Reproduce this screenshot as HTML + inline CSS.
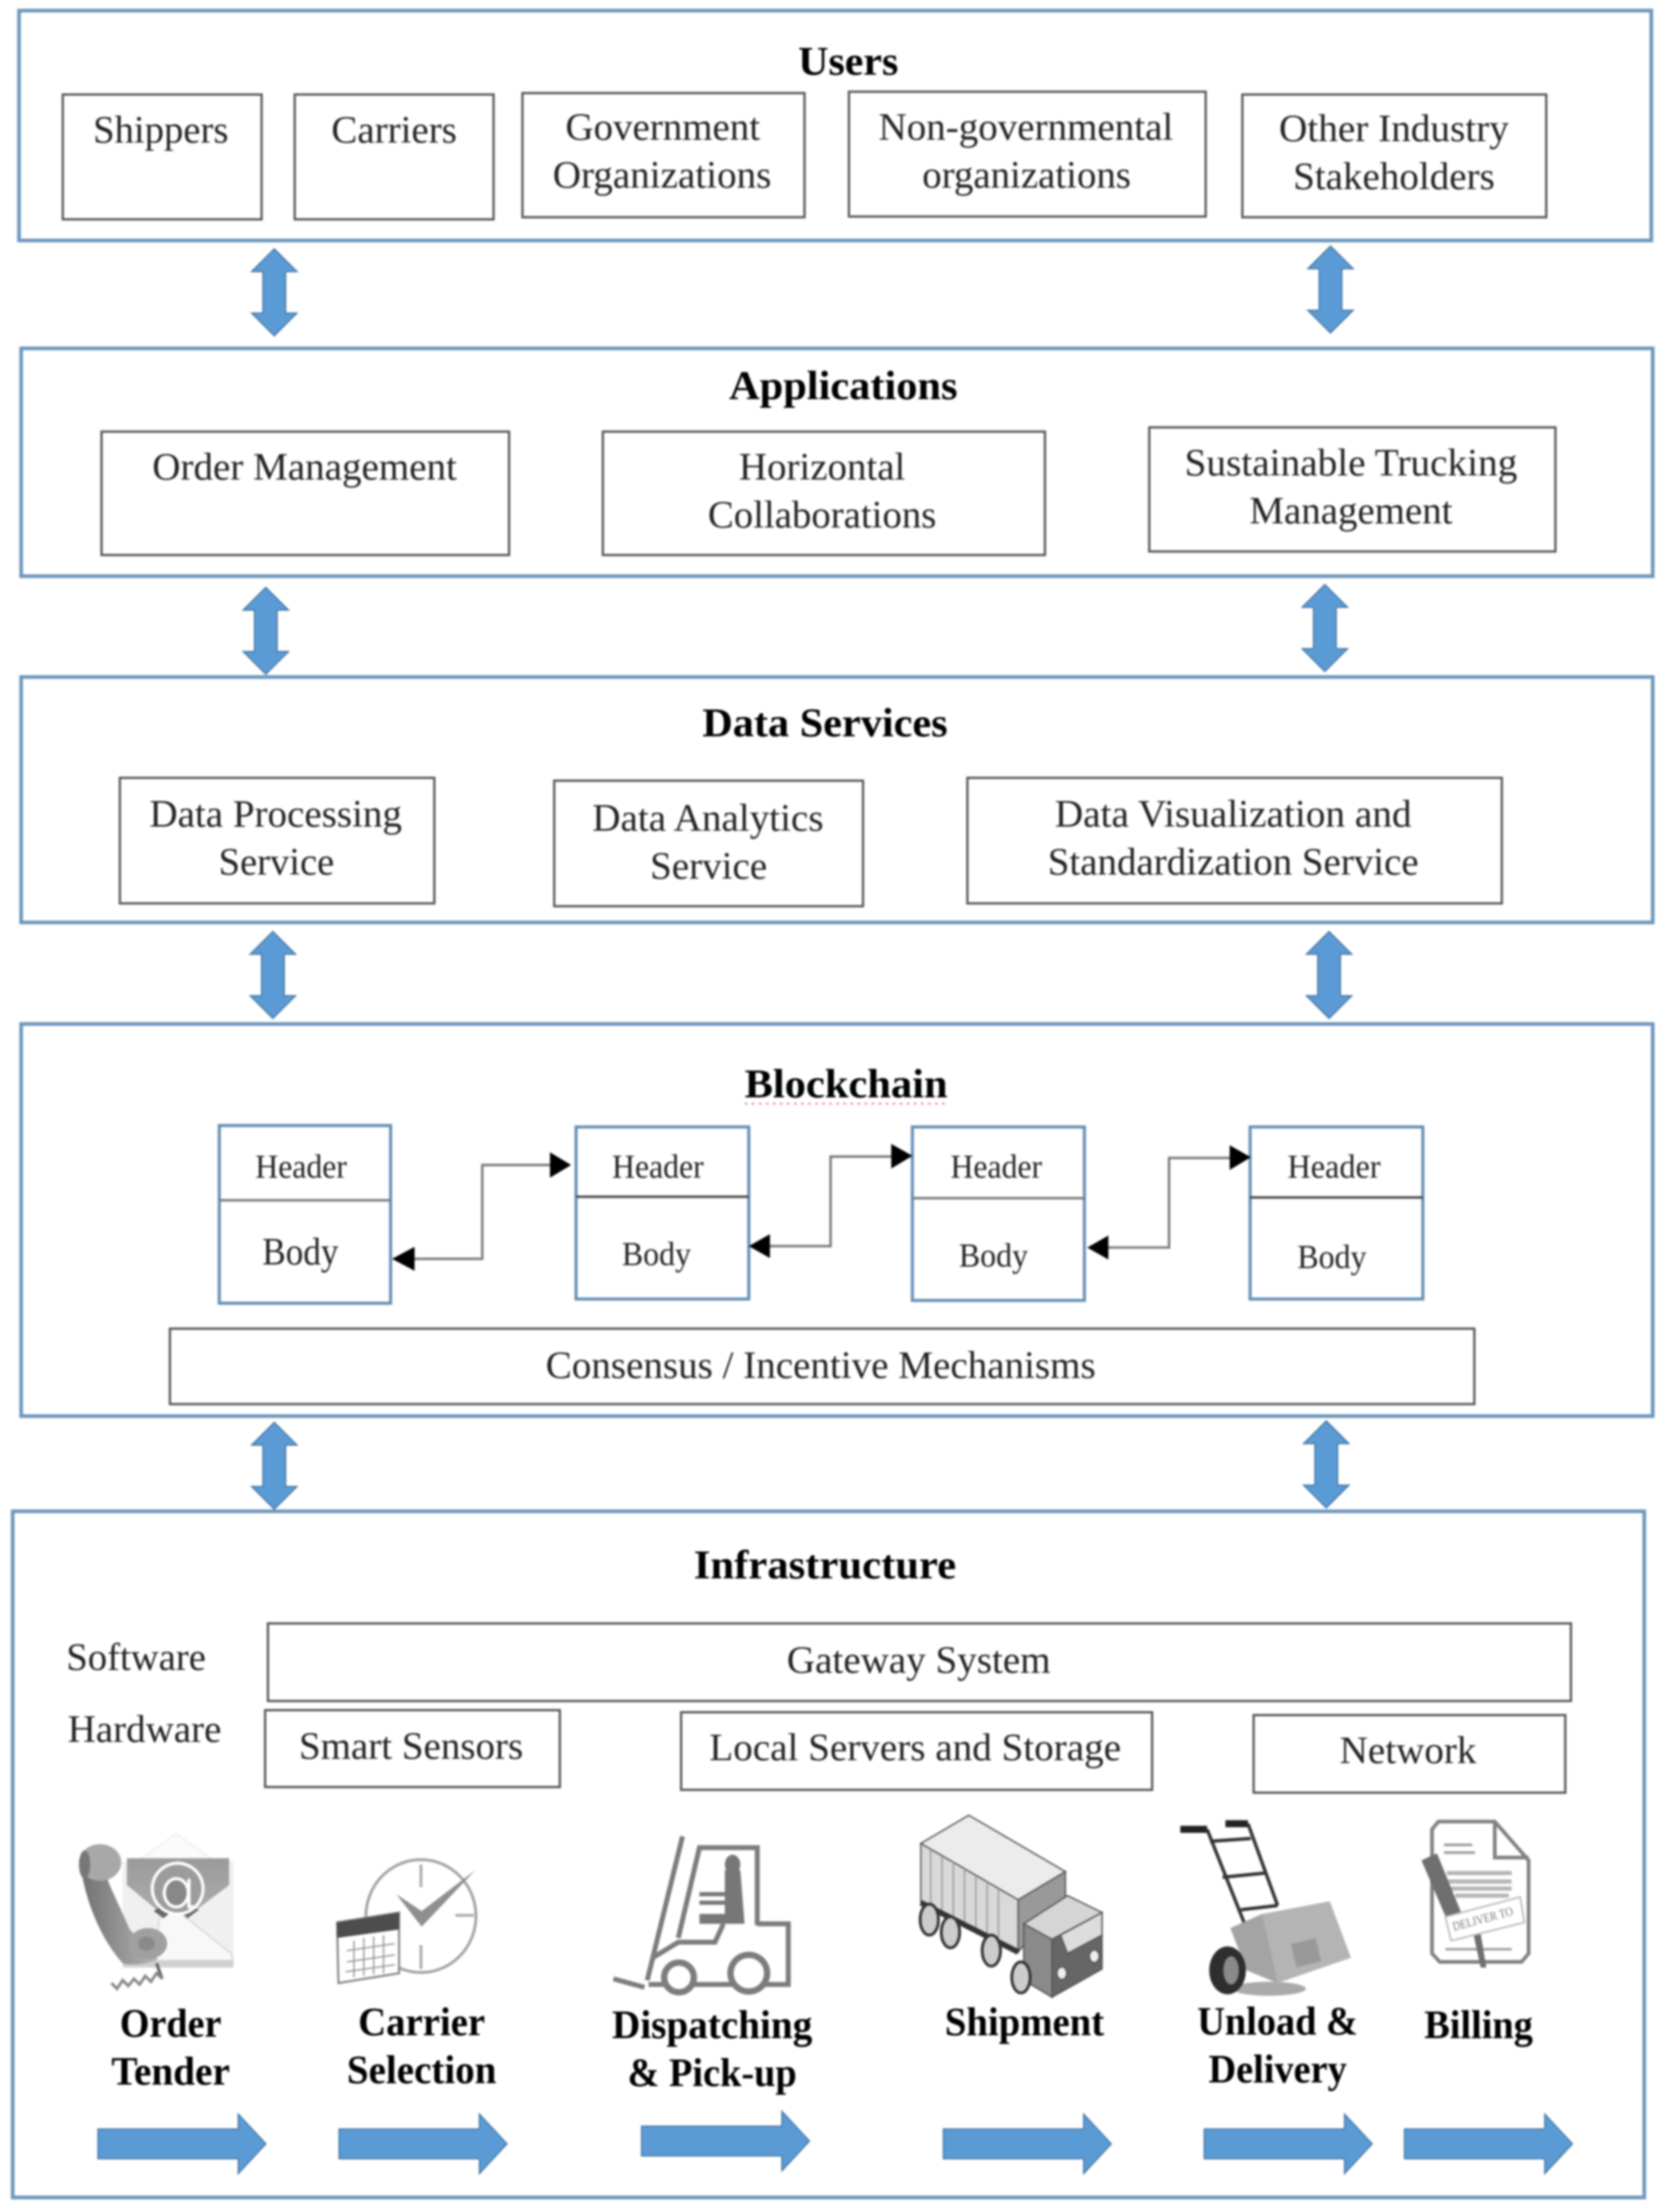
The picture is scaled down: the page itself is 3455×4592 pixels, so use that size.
<!DOCTYPE html>
<html><head><meta charset="utf-8">
<style>
html,body{margin:0;padding:0;background:#fff}
svg{display:block;width:3455px;height:4592px;filter:blur(2.2px)}
text{font-family:"Liberation Serif",serif;font-size:27.5px;fill:#222}
.t{font-weight:bold;font-size:29px;fill:#000}
.l{font-weight:bold;font-size:28.5px;fill:#000}
.s{font-size:24px}
.o{fill:#fff;stroke:#6d97bc;stroke-width:2.6}
.b{fill:#fff;stroke:#555;stroke-width:1.6}
.k{fill:#fff;stroke:#6890b5;stroke-width:2.2}
.a{fill:#5b9bd5;stroke:#4a7ba8;stroke-width:1}
.c{fill:none;stroke:#777;stroke-width:1.7}
</style></head><body>
<svg xmlns="http://www.w3.org/2000/svg" viewBox="0 0 1180 1568.3">
<rect width="1180" height="1569" fill="#fff"/>
<defs>
<path id="da" class="a" d="M0 0L16 16H8V45.500H16L0 61.500L-16 45.500H-8V16H-16Z"/>
<path id="ra" class="a" d="M0 10.500H99.500V0L119 21L99.500 42V31.500H0Z"/>
<linearGradient id="env" x1="0" y1="0" x2="0" y2="1"><stop offset="0" stop-color="#9a9a9a"/><stop offset="1" stop-color="#adadad"/></linearGradient>
<linearGradient id="hs" x1="0" y1="0" x2="1" y2="0"><stop offset="0" stop-color="#707070"/><stop offset="1" stop-color="#b5b5b5"/></linearGradient>
</defs>

<!-- outer panels -->
<rect class="o" x="13.500" y="7.500" width="1157.500" height="163"/>
<rect class="o" x="15" y="247" width="1157" height="161.500"/>
<rect class="o" x="15" y="480" width="1157" height="174"/>
<rect class="o" x="15" y="726" width="1157" height="278"/>
<rect class="o" x="9" y="1071.500" width="1157" height="486.500"/>

<!-- users -->
<text class="t" x="566" y="53" textLength="71" lengthAdjust="spacingAndGlyphs">Users</text>
<rect class="b" x="44.500" y="67" width="141" height="88.500"/>
<rect class="b" x="209" y="67" width="141" height="88.500"/>
<rect class="b" x="370.500" y="66" width="200" height="88"/>
<rect class="b" x="602" y="65" width="253" height="88.500"/>
<rect class="b" x="881" y="67" width="215.500" height="87"/>
<text x="66" y="101" textLength="96" lengthAdjust="spacingAndGlyphs">Shippers</text>
<text x="235" y="101" textLength="89" lengthAdjust="spacingAndGlyphs">Carriers</text>
<text x="401" y="99" textLength="138" lengthAdjust="spacingAndGlyphs">Government</text>
<text x="392" y="133" textLength="155" lengthAdjust="spacingAndGlyphs">Organizations</text>
<text x="623" y="99" textLength="209" lengthAdjust="spacingAndGlyphs">Non-governmental</text>
<text x="654" y="133" textLength="148" lengthAdjust="spacingAndGlyphs">organizations</text>
<text x="907" y="100" textLength="163" lengthAdjust="spacingAndGlyphs">Other Industry</text>
<text x="917" y="134" textLength="143" lengthAdjust="spacingAndGlyphs">Stakeholders</text>

<!-- vertical arrows -->
<use href="#da" x="194.500" y="176.500"/>
<use href="#da" x="943.500" y="174.500"/>
<use href="#da" x="188.500" y="416.500"/>
<use href="#da" x="939.500" y="414.500"/>
<use href="#da" x="193.500" y="660.500"/>
<use href="#da" x="942.500" y="660.500"/>
<use href="#da" x="194.500" y="1008.500"/>
<use href="#da" x="940.500" y="1007.500"/>

<!-- applications -->
<text class="t" x="517" y="283" textLength="162" lengthAdjust="spacingAndGlyphs">Applications</text>
<rect class="b" x="72" y="306" width="289" height="87.500"/>
<rect class="b" x="427.500" y="306" width="313.500" height="87.500"/>
<rect class="b" x="815" y="303" width="288" height="88"/>
<text x="108" y="340" textLength="216" lengthAdjust="spacingAndGlyphs">Order Management</text>
<text x="524" y="340" textLength="118" lengthAdjust="spacingAndGlyphs">Horizontal</text>
<text x="502" y="374" textLength="162" lengthAdjust="spacingAndGlyphs">Collaborations</text>
<text x="840" y="337" textLength="236" lengthAdjust="spacingAndGlyphs">Sustainable Trucking</text>
<text x="886" y="371" textLength="144" lengthAdjust="spacingAndGlyphs">Management</text>

<!-- data services -->
<text class="t" x="498" y="522" textLength="174" lengthAdjust="spacingAndGlyphs">Data Services</text>
<rect class="b" x="85" y="551.500" width="223" height="89"/>
<rect class="b" x="393" y="553.500" width="219" height="89"/>
<rect class="b" x="686" y="551.500" width="379" height="89"/>
<text x="106" y="586" textLength="179" lengthAdjust="spacingAndGlyphs">Data Processing</text>
<text x="155" y="620" textLength="82" lengthAdjust="spacingAndGlyphs">Service</text>
<text x="420" y="589" textLength="164" lengthAdjust="spacingAndGlyphs">Data Analytics</text>
<text x="461" y="623" textLength="83" lengthAdjust="spacingAndGlyphs">Service</text>
<text x="748" y="586" textLength="253" lengthAdjust="spacingAndGlyphs">Data Visualization and</text>
<text x="743" y="620" textLength="263" lengthAdjust="spacingAndGlyphs">Standardization Service</text>

<!-- blockchain -->
<text class="t" x="528" y="778" textLength="144" lengthAdjust="spacingAndGlyphs">Blockchain</text>
<line x1="528" y1="782.500" x2="672" y2="782.500" stroke="#e88" stroke-width="1.200" stroke-dasharray="2 3"/>

<rect class="k" x="155.500" y="798" width="121.500" height="126"/>
<line class="c" x1="155.500" y1="851" x2="277" y2="851"/>
<rect class="k" x="408.500" y="799" width="122.500" height="122"/>
<line class="c" style="stroke:#444" x1="408.500" y1="848.500" x2="531" y2="848.500"/>
<rect class="k" x="647" y="799" width="122" height="123"/>
<line class="c" x1="647" y1="849.500" x2="769" y2="849.500"/>
<rect class="k" x="886.500" y="799" width="122.500" height="122"/>
<line class="c" style="stroke:#444" x1="886.500" y1="849" x2="1009" y2="849"/>

<text class="s" x="181" y="835" textLength="65" lengthAdjust="spacingAndGlyphs">Header</text>
<text x="186" y="896.500" textLength="54" lengthAdjust="spacingAndGlyphs">Body</text>
<text class="s" x="434" y="835" textLength="65" lengthAdjust="spacingAndGlyphs">Header</text>
<text class="s" x="441" y="897" textLength="49" lengthAdjust="spacingAndGlyphs">Body</text>
<text class="s" x="674" y="835" textLength="65" lengthAdjust="spacingAndGlyphs">Header</text>
<text class="s" x="680" y="898" textLength="49" lengthAdjust="spacingAndGlyphs">Body</text>
<text class="s" x="913" y="835" textLength="66" lengthAdjust="spacingAndGlyphs">Header</text>
<text class="s" x="920" y="899" textLength="49" lengthAdjust="spacingAndGlyphs">Body</text>

<path class="c" d="M290 892.500H342V826H392"/>
<path d="M278 892.500L294 884V901Z"/><path d="M405 826L390 817V835Z"/>
<path class="c" d="M544 883.500H589V820H635"/>
<path d="M531 883.500L546 875V892Z"/><path d="M647 819.500L632 811V828.500Z"/>
<path class="c" d="M784 884.500H829V821H875"/>
<path d="M771 884.500L786 876V893Z"/><path d="M887 820.500L872 812V829.500Z"/>

<rect class="b" x="120.500" y="942" width="925" height="53.500"/>
<text x="387" y="977" textLength="390" lengthAdjust="spacingAndGlyphs">Consensus / Incentive Mechanisms</text>

<!-- infrastructure -->
<text class="t" x="492" y="1119" textLength="186" lengthAdjust="spacingAndGlyphs">Infrastructure</text>
<text x="47" y="1184" textLength="99" lengthAdjust="spacingAndGlyphs">Software</text>
<text x="48" y="1235" textLength="109" lengthAdjust="spacingAndGlyphs">Hardware</text>
<rect class="b" x="190" y="1151" width="924" height="55"/>
<rect class="b" x="188" y="1212.500" width="209" height="54.500"/>
<rect class="b" x="483" y="1214" width="334" height="55"/>
<rect class="b" x="889" y="1216" width="221" height="55"/>
<text x="558" y="1186" textLength="187" lengthAdjust="spacingAndGlyphs">Gateway System</text>
<text x="212" y="1247" textLength="159" lengthAdjust="spacingAndGlyphs">Smart Sensors</text>
<text x="503" y="1248" textLength="292" lengthAdjust="spacingAndGlyphs">Local Servers and Storage</text>
<text x="950" y="1250" textLength="97" lengthAdjust="spacingAndGlyphs">Network</text>

<!-- email + phone icon -->
<path d="M125 1300L150 1318H100Z" fill="#fbfbfb" stroke="#eee" stroke-width="1"/>
<rect x="87" y="1320" width="78.500" height="75" fill="#f0f0f0"/>
<rect x="87" y="1389" width="78.500" height="6" fill="#d0d0d0"/>
<path d="M90 1317.500H162.500V1336.500L134 1358L125 1353L116 1358L90 1336.500Z" fill="url(#env)"/>
<path d="M113 1360L125 1354L164.500 1385.500V1390H110Z" fill="#f8f8f8" stroke="#d5d5d5" stroke-width="1"/>
<path d="M109 1355L116 1360L122 1355L128 1355L133 1360L141 1354L134 1350H116Z" fill="#666"/>
<circle cx="126" cy="1339" r="18" fill="#9c9c9c" stroke="#fff" stroke-width="2.200"/>
<ellipse cx="125" cy="1342" rx="8.500" ry="10" fill="#888" stroke="#fff" stroke-width="2.200"/>
<path d="M134 1332V1352H140" fill="none" stroke="#fff" stroke-width="2.200"/>
<path d="M57 1322C60 1345 70 1373 87 1392C94 1394 108 1392 112 1389L92 1368C85 1352 80 1342 76 1332Z" fill="url(#hs)"/>
<ellipse cx="71" cy="1320.500" rx="15" ry="13" fill="#a8a8a8"/>
<ellipse cx="60" cy="1322" rx="4" ry="10" fill="#777"/>
<ellipse cx="105" cy="1378" rx="13.500" ry="11" fill="#a0a0a0"/>
<ellipse cx="104" cy="1378" rx="6" ry="5" fill="#8a8a8a"/>
<path d="M111 1392L115 1403" stroke="#666" stroke-width="2.200" fill="none"/>
<path d="M115 1403L111 1399L107 1405L103 1401L99 1407L95 1403L91 1408L87 1404L83 1410L79 1406" fill="none" stroke="#888" stroke-width="2"/>

<!-- clock + calendar icon -->
<ellipse cx="298.500" cy="1358.500" rx="39" ry="40" fill="#fff" stroke="#a2a2a2" stroke-width="2"/>
<path d="M298.500 1322V1338M298.500 1379V1396M323 1358H336" stroke="#aaa" stroke-width="2" fill="none"/>
<path d="M281 1343L299 1366L337 1326L299 1355Z" fill="#8e8e8e"/>
<path d="M239 1363L283 1356V1399L240 1406Z" fill="#fff" stroke="#888" stroke-width="1.500"/>
<path d="M239 1363L283 1356V1368L239 1374Z" fill="#4d4d4d"/>
<path d="M246 1383L280 1378M246 1391L280 1386M245 1398L280 1393M251 1376V1402M258 1374V1401M265 1373V1400M272 1372V1399" stroke="#999" stroke-width="1" fill="none"/>

<!-- forklift icon -->
<g fill="none" stroke="#7c7c7c">
<path d="M484 1302L459 1404" stroke-width="3.500"/>
<path d="M435 1403L457 1409" stroke-width="3.500"/>
<path d="M481 1374L496 1310H537V1365" stroke-width="3.500"/>
<path d="M537 1364H559V1407H460" stroke-width="3.500"/>
<path d="M463 1388L481 1377H507L513 1364" stroke-width="3.500"/>
<circle cx="481.500" cy="1402" r="10.500" fill="#fff" stroke-width="4.500"/>
<circle cx="531" cy="1399" r="13" fill="#fff" stroke-width="4.500"/>
</g>
<ellipse cx="519.500" cy="1322" rx="5.500" ry="7" fill="#777"/>
<path d="M514 1326H525L528 1364H496V1357H514Z" fill="#777"/>
<path d="M496 1343H514M496 1349H514" stroke="#777" stroke-width="3" fill="none"/>

<!-- truck icon -->
<g stroke="#555" stroke-width="1">
<path d="M687 1287L755.500 1327L722 1347L653 1307Z" fill="#ececec"/>
<path d="M653 1307L722 1347V1384L653 1349Z" fill="#d9d9d9"/>
<path d="M660 1311V1353M668 1316V1358M676 1320V1362M684 1325V1366M692 1330V1370M700 1334V1374M708 1339V1378" stroke="#999" fill="none"/>
<path d="M722 1347L755.500 1327V1345L722 1384Z" fill="#999"/>
<path d="M757 1344L781.500 1356L746 1375L726 1364Z" fill="#d5d5d5"/>
<path d="M746 1375L781.500 1356V1396L746 1416Z" fill="#666"/>
<path d="M752 1372L781.500 1356V1372L757 1385Z" fill="#ddd"/>
<path d="M726 1364L746 1375V1416L726 1404Z" fill="#8a8a8a"/>
<path d="M653 1349L722 1384" stroke="#333" stroke-width="4" fill="none"/>
<ellipse cx="659" cy="1361" rx="6.500" ry="11" fill="#ccc" stroke="#333" stroke-width="2"/>
<ellipse cx="674" cy="1370" rx="6.500" ry="11" fill="#ccc" stroke="#333" stroke-width="2"/>
<ellipse cx="703" cy="1383" rx="6.500" ry="11" fill="#ccc" stroke="#333" stroke-width="2"/>
<ellipse cx="724" cy="1402" rx="6.500" ry="11" fill="#ccc" stroke="#333" stroke-width="2"/>
<ellipse cx="753" cy="1399" rx="3.500" ry="4.500" fill="#eee"/>
<ellipse cx="776" cy="1387" rx="3.500" ry="4.500" fill="#eee"/>
</g>

<!-- hand truck icon -->
<g fill="none" stroke="#333" stroke-width="2.400">
<path d="M856 1297L883 1365"/><path d="M885 1293L906 1351"/>
<path d="M858 1305.500L887 1303.500M867 1331L897 1328M880 1354L906 1351"/>
</g>
<path d="M837 1297H856M869 1293H885" stroke="#222" stroke-width="5" fill="none"/>
<ellipse cx="900" cy="1410" rx="26" ry="5" fill="#aaa"/>
<path d="M872.500 1367L895 1357L943 1348L958 1388L906 1406L884 1397Z" fill="#b4b4b4"/>
<path d="M872.500 1367L895 1357L906 1406L884 1397Z" fill="#a4a4a4"/>
<rect x="917" y="1376" width="18" height="17" fill="#999" transform="rotate(-14 926 1384)"/>
<ellipse cx="870.500" cy="1397" rx="13" ry="17" fill="#2e2e2e"/>
<ellipse cx="873" cy="1397" rx="5.500" ry="10" fill="#8a8a8a"/>

<!-- billing icon -->
<path d="M1020 1291.500H1060L1084 1319V1385L1079 1391H1021L1015.500 1385V1297Z" fill="#fff" stroke="#808080" stroke-width="2.600"/>
<path d="M1060 1292V1317H1084" fill="none" stroke="#808080" stroke-width="2.600"/>
<path d="M1024 1308H1044M1024 1313.500H1046" stroke="#999" stroke-width="1.800" fill="none"/>
<path d="M1026 1328H1072M1027 1334H1072M1029 1339H1072M1032 1344H1070" stroke="#b5b5b5" stroke-width="3" fill="none"/>
<path d="M1025 1382H1072" stroke="#999" stroke-width="1.600" fill="none"/>
<path d="M1008 1319L1019 1314L1037 1358L1026 1361Z" fill="#6f6f6f"/>
<path d="M1045 1372L1050 1371L1054 1395L1050 1395Z" fill="#6f6f6f"/>
<path d="M1025 1359L1078 1345L1081 1363L1029 1376Z" fill="#fff" stroke="#bbb" stroke-width="1.200"/>
<text x="1031" y="1369" transform="rotate(-15 1031 1369)" style="font-size:9px;fill:#777" textLength="44" lengthAdjust="spacingAndGlyphs">DELIVER TO</text>

<!-- labels -->
<text class="l" x="85" y="1444" textLength="72" lengthAdjust="spacingAndGlyphs">Order</text>
<text class="l" x="79" y="1478" textLength="84" lengthAdjust="spacingAndGlyphs">Tender</text>
<text class="l" x="254" y="1443" textLength="90" lengthAdjust="spacingAndGlyphs">Carrier</text>
<text class="l" x="246" y="1477" textLength="106" lengthAdjust="spacingAndGlyphs">Selection</text>
<text class="l" x="434" y="1445" textLength="142" lengthAdjust="spacingAndGlyphs">Dispatching</text>
<text class="l" x="445" y="1479" textLength="120" lengthAdjust="spacingAndGlyphs">&amp; Pick-up</text>
<text class="l" x="670" y="1443" textLength="113" lengthAdjust="spacingAndGlyphs">Shipment</text>
<text class="l" x="849" y="1442.500" textLength="114" lengthAdjust="spacingAndGlyphs">Unload &amp;</text>
<text class="l" x="857" y="1476.500" textLength="98" lengthAdjust="spacingAndGlyphs">Delivery</text>
<text class="l" x="1010" y="1445" textLength="77" lengthAdjust="spacingAndGlyphs">Billing</text>

<!-- process arrows -->
<use href="#ra" x="69.500" y="1499"/>
<use href="#ra" x="240.500" y="1499"/>
<use href="#ra" x="455" y="1497"/>
<use href="#ra" x="669" y="1499"/>
<use href="#ra" x="854" y="1499"/>
<use href="#ra" x="996" y="1499"/>
</svg>
</body></html>
